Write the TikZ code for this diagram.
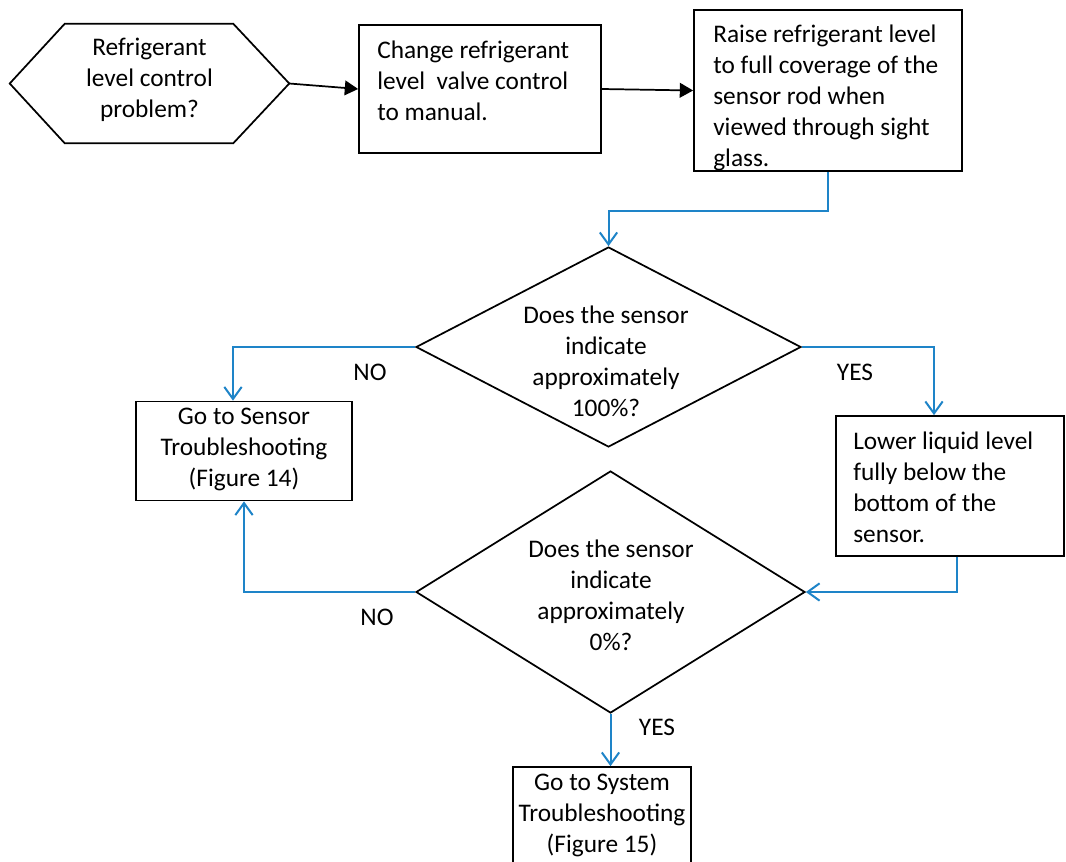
\documentclass[tikz,border=0pt]{standalone}
\usepackage{fontspec}
\setmainfont{Carlito}
\usetikzlibrary{arrows.meta,shapes.geometric}
\newdimen\pxu \pxu=0.75pt
\definecolor{flowblue}{RGB}{30,132,200}
\begin{document}
\begin{tikzpicture}[x=0.75pt,y=-0.75pt,
  shapeline/.style={draw=black, line width=1.3pt},
  boxnode/.style={shapeline, rectangle, inner sep=0pt},
  diam/.style={shapeline, diamond, inner sep=0pt, aspect=1},
  txt/.style={font=\fontsize{19}{23.25}\selectfont, inner sep=0pt, align=center},
  ltxt/.style={txt, align=left, anchor=west},
  lbl/.style={font=\fontsize{19}{23.25}\selectfont, inner sep=0pt},
  blackarrow/.style={draw=black, line width=1.3pt, -{Triangle[length=10pt,width=11pt]}},
  bluearrow/.style={draw=flowblue, line width=1.5pt, -{Straight Barb[length=9pt,width=13pt]}},
]
\useasboundingbox (0,0) rectangle (1066,861);
\fill[white] (0,0) rectangle (1066,861);

% hexagon
\node[minimum width=279\pxu, minimum height=119\pxu, inner sep=0pt] (hex) at (149.5,83.5) {};
\draw[shapeline] (hex.west) -- ([xshift=55\pxu]hex.north west) -- ([xshift=-56\pxu]hex.north east)
  -- (hex.east) -- ([xshift=-56\pxu]hex.south east) -- ([xshift=55\pxu]hex.south west) -- cycle;
\node[txt] (hext) at (149.5,80) {Refrigerant\\level control\\problem?};

% boxes
\node[boxnode, minimum width=242\pxu, minimum height=128\pxu] (b2) at (480,89) {};
\node[ltxt] (b2t) at (377,80.5) {Change refrigerant\\level~ valve control\\to manual.};

\node[boxnode, minimum width=268\pxu, minimum height=161\pxu] (b3) at (828,90.5) {};
\node[ltxt] (b3t) at (713,98) {Raise refrigerant level\\to full coverage of the\\sensor rod when\\viewed through sight\\glass.};

\node[diam, minimum width=385\pxu, minimum height=200\pxu] (d1) at (608.5,347) {};
\node[txt] (d1t) at (606,361.5) {Does the sensor\\indicate\\approximately\\100\%?};

\node[boxnode, minimum width=216\pxu, minimum height=99\pxu] (sens) at (244,451) {};
\node[txt] (senst) at (244,449) {Go to Sensor\\Troubleshooting\\(Figure 14)};

\node[boxnode, minimum width=228\pxu, minimum height=140\pxu] (low) at (950,486) {};
\node[ltxt] (lowt) at (853,487.5) {Lower liquid level\\fully below the\\bottom of the\\sensor.};

\node[diam, minimum width=389\pxu, minimum height=242\pxu] (d2) at (610.5,592) {};
\node[txt] (d2t) at (611,595.5) {Does the sensor\\indicate\\approximately\\0\%?};

\node[boxnode, minimum width=178\pxu, minimum height=104\pxu] (sys) at (602,819) {};
\node[txt] (syst) at (602,815.5) {Go to System\\Troubleshooting\\(Figure 15)};

% labels
\node[lbl] (no1) at (370,372) {NO};
\node[lbl] (yes1) at (855,372) {YES};
\node[lbl] (no2) at (377,617) {NO};
\node[lbl] (yes2) at (657,727) {YES};

% connectors
\draw[blackarrow] (hex.east) -- (b2.west);
\draw[blackarrow] (b2.east) -- (b3.west);
\draw[bluearrow] (b3.south) -- ++(0,39) -| (d1.north);
\draw[bluearrow] (d1.west) -| ([xshift=-11\pxu]sens.north);
\draw[bluearrow] (d1.east) -| ([xshift=-16\pxu]low.north);
\draw[bluearrow] ([xshift=7\pxu]low.south) |- (d2.east);
\draw[bluearrow] (d2.west) -| (sens.south);
\draw[bluearrow] (d2.south) -- (d2.south |- sys.north);
\end{tikzpicture}
\end{document}
